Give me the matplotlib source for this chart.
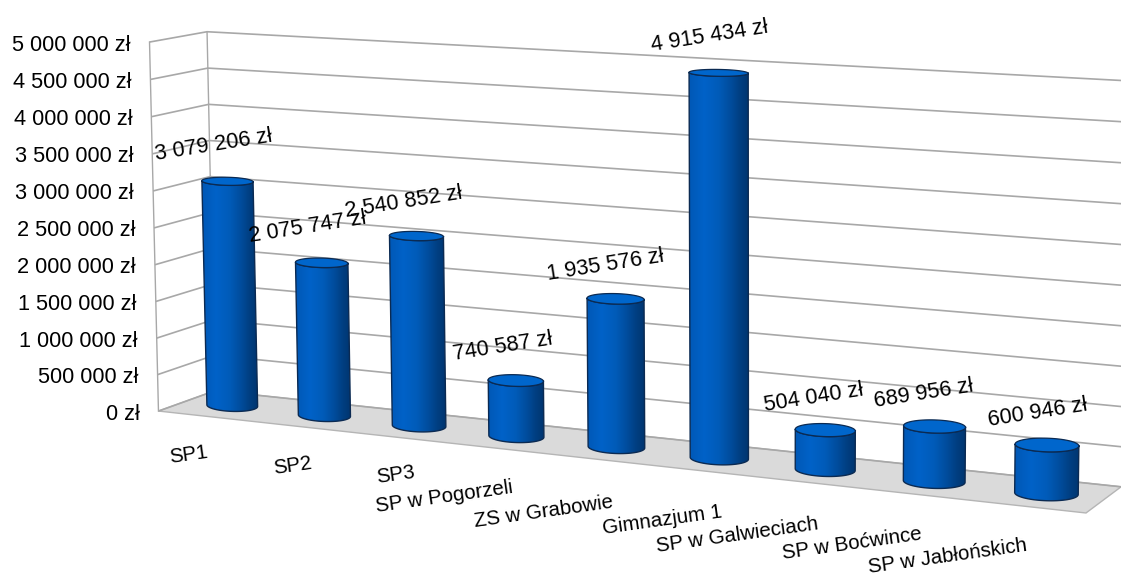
import numpy as np
import matplotlib
matplotlib.use("Agg")
import matplotlib.pyplot as plt
from matplotlib.colors import LinearSegmentedColormap

# ---- data ----
categories = ["SP1", "SP2", "SP3", "SP w Pogorzeli", "ZS w Grabowie", "Gimnazjum 1",
              "SP w Galwieciach", "SP w Boćwince", "SP w Jabłońskich"]
values = [3079206, 2075747, 2540852, 740587, 1935576, 4915434, 504040, 689956, 600946]
ticks = [0, 500000, 1000000, 1500000, 2000000, 2500000, 3000000, 3500000, 4000000, 4500000, 5000000]
vmax = 5000000

# ---- layout: label centres in pixels ----
value_label_xy = [(214, 145), (308, 227), (404, 202), (503, 347), (605, 265),
                  (710, 36), (814, 398), (924, 394), (1038, 413)]
cat_label_xy = [(188, 455), (292, 466), (395, 475), (444, 497), (544, 512),
                (662, 520), (737, 535), (852, 544), (948, 556)]

# ---- projection calibrated on the box corners: (u, v, depth) -> pixel ----
calib = [((0, 0, 1), (158, 411)), ((0, 1, 1), (149, 42)), ((0, .5, 1), (155, 228)),
         ((0, 0, 0), (215, 391)), ((0, 1, 0), (207, 32)), ((0, .5, 0), (211, 212)),
         ((1, 0, 0), (1121, 487)), ((1, 1, 0), (1127, 81)), ((1, .5, 0), (1124, 285)),
         ((1, 0, 1), (1086, 513))]
rows = []
for (u, v, d), (px, py) in calib:
    X = [u, v, d, 1]
    px, py = px / 1000, py / 1000
    rows.append(X + [0, 0, 0, 0] + [-px * c for c in X])
    rows.append([0, 0, 0, 0] + X + [-py * c for c in X])
M = np.linalg.svd(np.array(rows, float))[2][-1].reshape(3, 4)


def P(u, v, d):
    h = M @ np.array([u, v, d, 1.0])
    return h[:2] / h[2] * 1000


fig = plt.figure(figsize=(11.21, 5.83), dpi=100)
ax = fig.add_axes([0, 0, 1, 1])
ax.axis("off")
plt.rcParams["font.family"] = ["Liberation Sans", "DejaVu Sans"]

GRID = "#A8A8A8"
TXT = "#000000"
FS = 15.7
# floor
ax.add_patch(plt.Polygon([P(0, 0, 1), P(0, 0, 0), P(1, 0, 0), P(1, 0, 1)],
                         closed=True, fc="#DADADA", ec="#B5B5B5", lw=1.0, zorder=1))
# gridlines and wall edges
for t in ticks:
    v = t / vmax
    pts = np.array([P(0, v, 1), P(0, v, 0), P(1, v, 0)])
    ax.plot(pts[:, 0], pts[:, 1], color=GRID, lw=1.2, zorder=2, solid_capstyle="butt")
    lab = P(0, v, 1)
    text = f"{t:,}".replace(",", " ") + " zł"
    ax.text(lab[0] - 19, lab[1] + 3, text, ha="right", va="center", fontsize=FS, color=TXT)
for d in (0, 1):
    a, b = P(0, 0, d), P(0, 1, d)
    ax.plot([a[0], b[0]], [a[1], b[1]], color=GRID, lw=1.0, zorder=2)

# cylinders
cmap = LinearSegmentedColormap.from_list("cyl", [(0, "#0058B6"), (.25, "#0062C8"), (.5, "#005BB8"),
                                                 (.7, "#004C9C"), (.85, "#003F82"), (1, "#00356F")])
EDGE = "#0B2A52"
RU, RD = 0.031, 0.28
n = len(values)
th = np.linspace(0, np.pi, 61)
full = np.linspace(0, 2 * np.pi, 81)
gradient = np.linspace(0, 1, 128)[None, :]


def ring(u, v, angles):
    c = P(u, v, .5)
    a = (P(u + RU, v, .5) - P(u - RU, v, .5)) / 2
    a[1] *= 0.3
    back, front = P(u, v, .5 - RD), P(u, v, .5 + RD)
    b = np.array([0, (front[1] - back[1]) / 2])
    return np.array([c + np.cos(q) * a + np.sin(q) * b for q in angles])


for i, val in enumerate(values):
    u = (i + .5) / n
    v = val / vmax
    z = 3 + i
    bot, top = ring(u, 0, th), ring(u, v, th)
    outline = np.vstack([top, bot[::-1], top[:1]])
    x0, x1 = outline[:, 0].min(), outline[:, 0].max()
    y0, y1 = outline[:, 1].min(), outline[:, 1].max()
    im = ax.imshow(gradient, extent=(x0, x1, y1, y0), cmap=cmap, vmin=0, vmax=1,
                   aspect="auto", interpolation="bilinear", zorder=z)
    clip = plt.Polygon(outline, closed=True, transform=ax.transData)
    im.set_clip_path(clip)
    ax.plot(outline[:, 0], outline[:, 1], color=EDGE, lw=1.0, zorder=z + .1)
    cap = ring(u, v, full)
    ax.add_patch(plt.Polygon(cap, closed=True, fc="#0066CC", ec=EDGE, lw=.9, zorder=z + .2))

ax.set_xlim(0, 1121)
ax.set_ylim(583, 0)
ax.set_aspect("auto")

# texts
for val, (x, y) in zip(values, value_label_xy):
    ax.text(x, y, f"{val:,}".replace(",", " ") + " zł", ha="center", va="center",
            rotation=9, rotation_mode="anchor", fontsize=FS, color=TXT, zorder=20)
for name, (x, y) in zip(categories, cat_label_xy):
    ax.text(x, y, name, ha="center", va="center", rotation=8, rotation_mode="anchor",
            fontsize=FS - .9, color=TXT, zorder=20)

fig.savefig("out.png", dpi=100)
